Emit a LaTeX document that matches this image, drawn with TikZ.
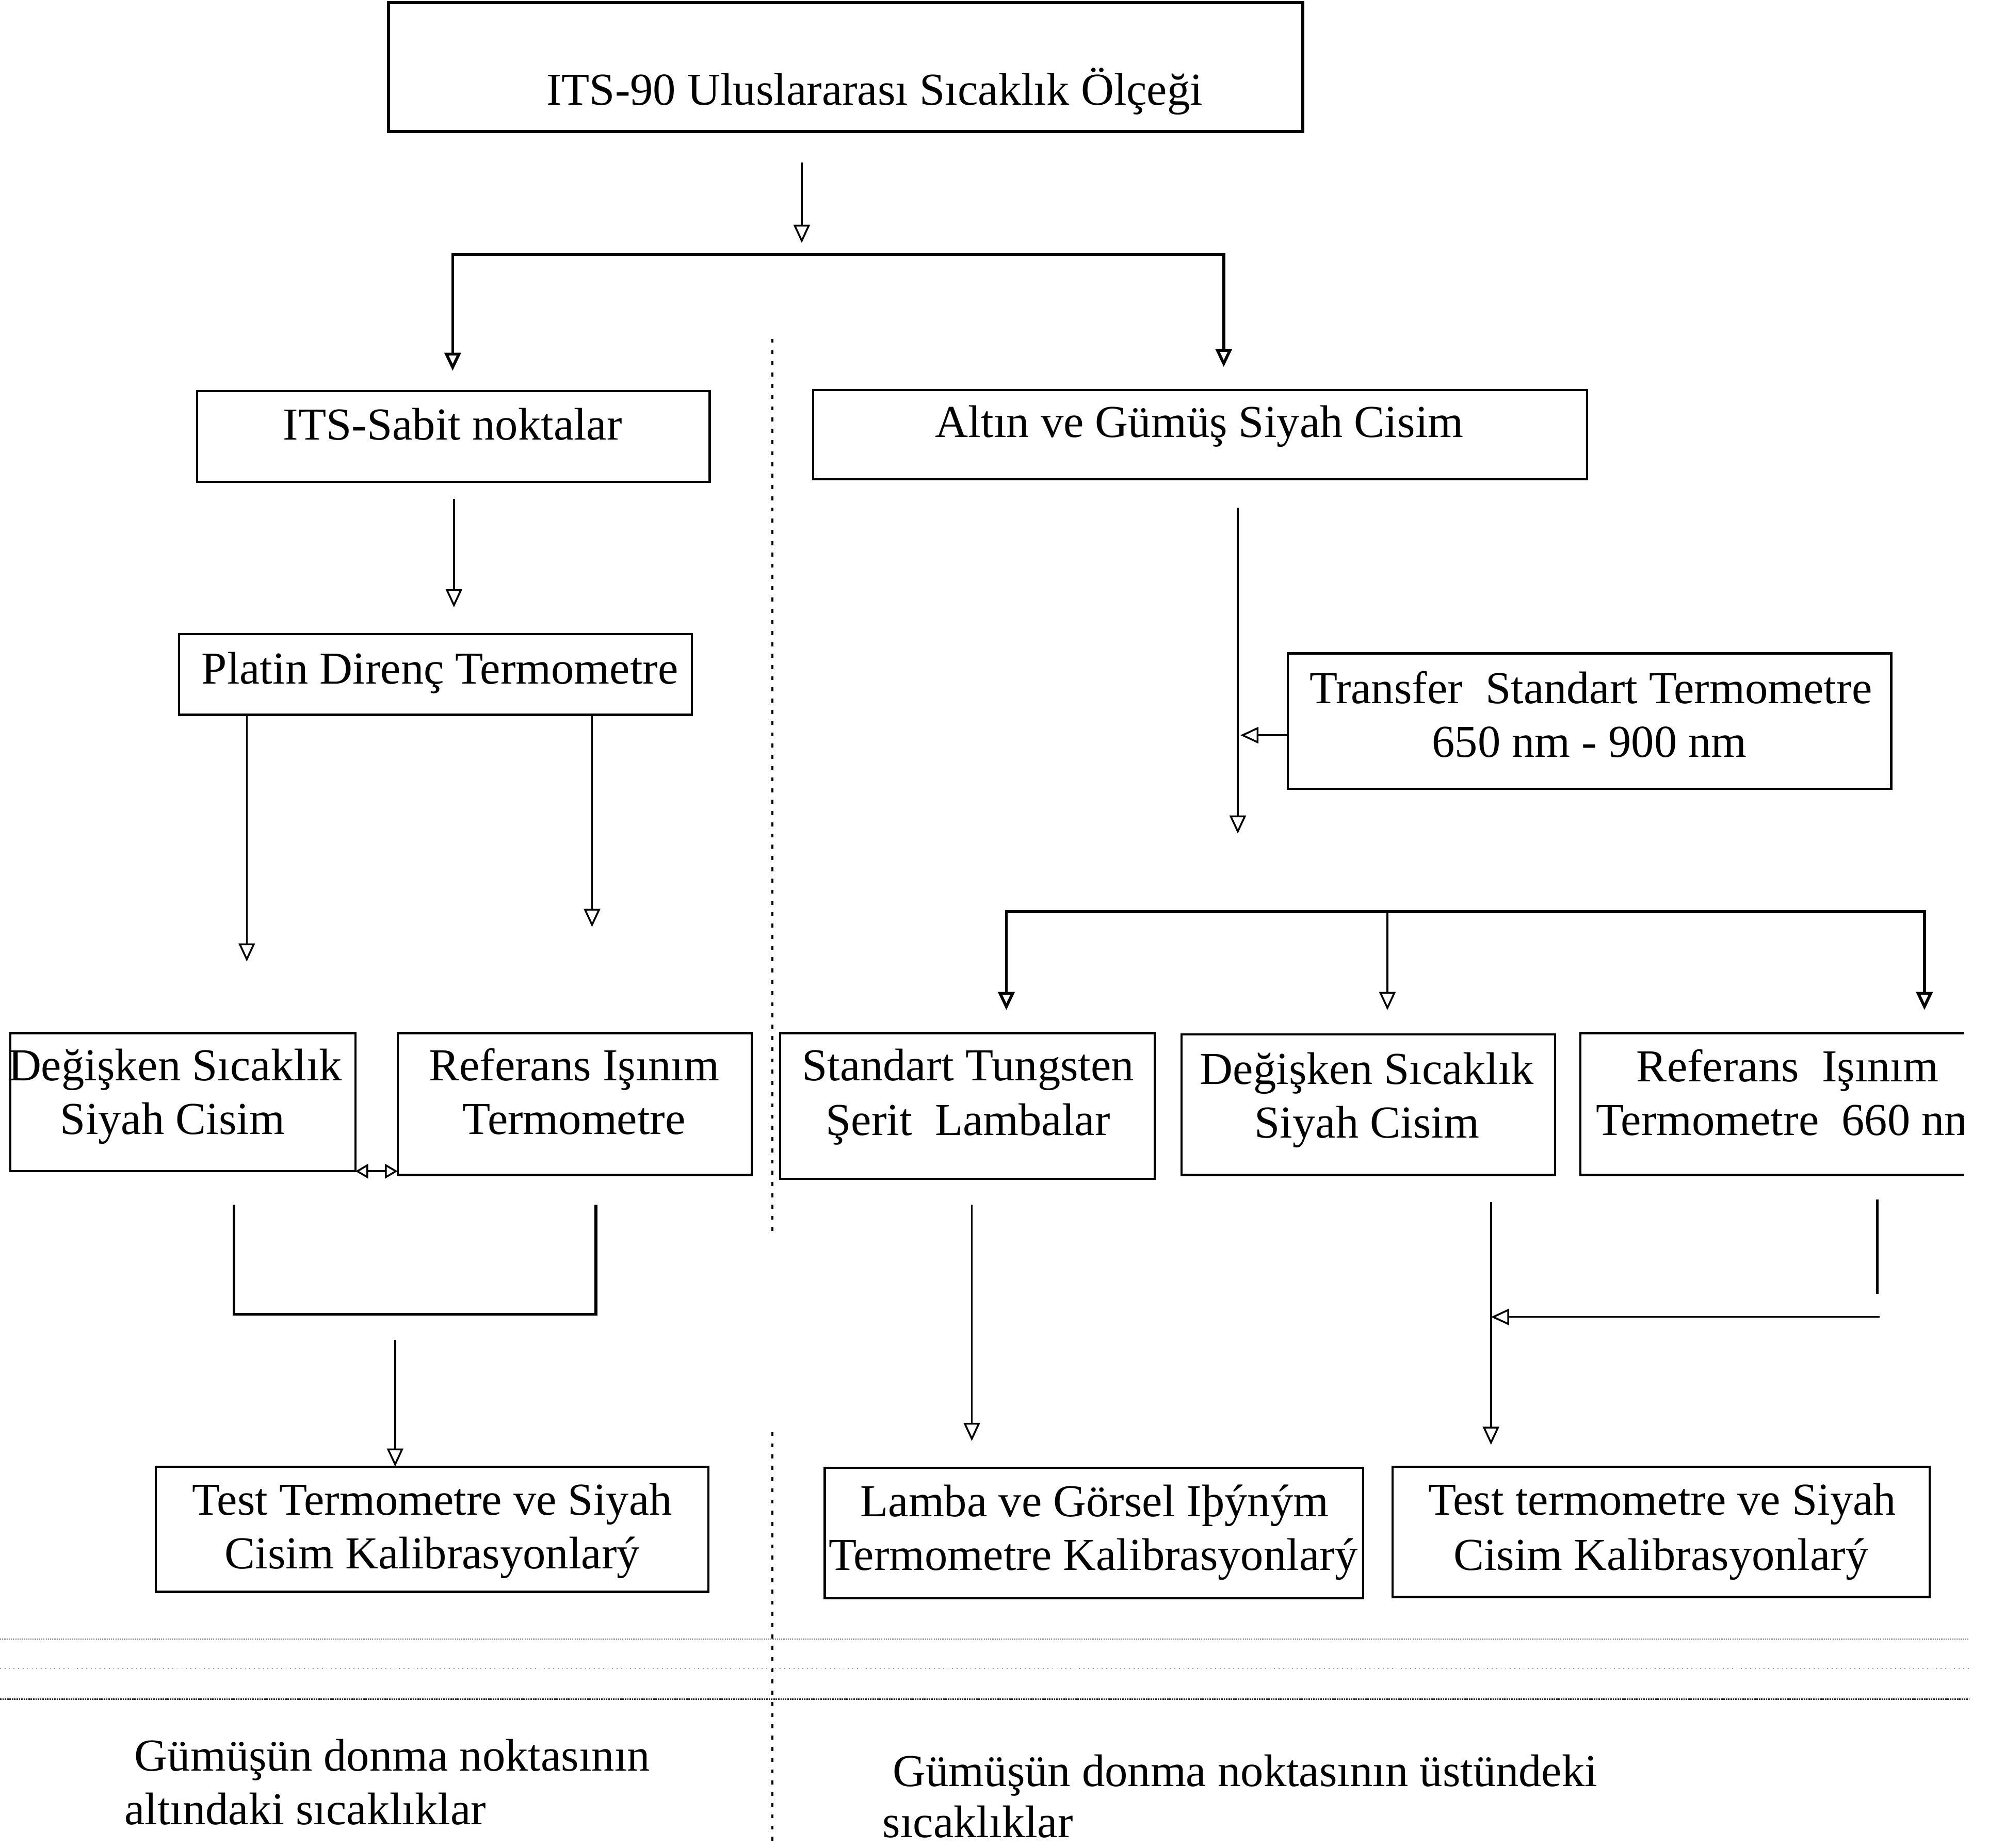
\documentclass[tikz,border=0pt]{standalone}
\usepackage{fontspec}
\setmainfont{Liberation Serif}
\usetikzlibrary{arrows.meta,calc}
\def\unitlen{0.02478cm}
\newcommand\mkbox[6][]{\node[box,#1, minimum width={(#5-#3)*\unitlen}, minimum height={(#6-#4)*\unitlen}] (#2) at ({(#3+#5)/2},{(#4+#6)/2}) {};}
\begin{document}
\begin{tikzpicture}[x=\unitlen, y=-\unitlen,
  box/.style={draw, line width=1.2pt, rectangle, inner sep=0pt, outer sep=0pt},
  txt/.style={font=\fontsize{25.2}{30}\selectfont, inner sep=0pt, anchor=base},
  txtl/.style={txt, anchor=base west},
  arr/.style={line width=1pt, -{Triangle[open,length=10pt,width=9pt]}},
  arrs/.style={line width=1pt, {Triangle[open,length=10pt,width=9pt]}-{Triangle[open,length=10pt,width=9pt]}},
  dbl/.style={line width=1pt, {Triangle[open,length=7pt,width=8pt]}-{Triangle[open,length=7pt,width=8pt]}},
  heavy/.style={line width=1.6pt},
  sep/.style={line width=1.3pt, dash pattern=on 2.2pt off 4pt}
]
\useasboundingbox[fill=white] (0,0) rectangle (1568,1445);

% ---------- boxes ----------
\mkbox[line width=1.7pt]{its}{304}{2}{1019}{103}
\mkbox{fix}{154}{306}{555}{377}
\mkbox{gold}{636}{305}{1241}{375}
\mkbox{pdt}{140}{496}{541}{559}
\mkbox{ldc}{8}{808}{278}{916}
\mkbox{lrt}{311}{808}{588}{919}
\mkbox{ltest}{122}{1147}{554}{1245}
\mkbox{trans}{1007}{511}{1479}{617}
\mkbox{tung}{610}{808}{903}{922}
\mkbox{rdc}{924}{809}{1216}{919}
\mkbox{lamba}{645}{1148}{1066}{1250}
\mkbox{rtest}{1089}{1147}{1509}{1249}
\begin{scope}
  \clip (1200,780) rectangle (1536,945);
  \mkbox{rrt}{1236}{808}{1565}{919}
  \node[txt] (rrt1) at (1398,846) {Referans\ \ Işınım};
  \node[txtl] (rrt2) at (1248,888) {Termometre\ \ 660 nm};
\end{scope}

% ---------- texts ----------
\node[txt] (its1) at (684,82) {ITS-90 Uluslararası Sıcaklık Ölçeği};
\node[txt] (fix1) at (354,344) {ITS-Sabit noktalar};
\node[txt] (gold1) at (938,342) {Altın ve Gümüş Siyah Cisim};
\node[txt] (pdt1) at (344,535) {Platin Direnç Termometre};
\node[txt] (ldc1) at (137,845) {Değişken Sıcaklık};
\node[txt] (ldc2) at (135,887) {Siyah Cisim};
\node[txt] (lrt1) at (449,845) {Referans Işınım};
\node[txt] (lrt2) at (449,887) {Termometre};
\node[txt] (ltest1) at (338,1185) {Test Termometre ve Siyah};
\node[txt] (ltest2) at (338,1227) {Cisim Kalibrasyonlarý};
\node[txt] (trans1) at (1244,550) {Transfer\ \ Standart Termometre};
\node[txt] (trans2) at (1243,592) {650 nm - 900 nm};
\node[txt] (tung1) at (757,845) {Standart Tungsten};
\node[txt] (tung2) at (757,888) {Şerit\ \ Lambalar};
\node[txt] (rdc1) at (1069,848) {Değişken Sıcaklık};
\node[txt] (rdc2) at (1069,890) {Siyah Cisim};
\node[txt] (lamba1) at (856,1186) {Lamba ve Görsel Iþýným};
\node[txt] (lamba2) at (855,1228) {Termometre Kalibrasyonlarý};
\node[txt] (rtest1) at (1300,1185) {Test termometre ve Siyah};
\node[txt] (rtest2) at (1299,1228) {Cisim Kalibrasyonlarý};
\node[txtl] (bl1) at (105,1385) {Gümüşün donma noktasının};
\node[txtl] (bl2) at (97,1427) {altındaki sıcaklıklar};
\node[txtl] (br1) at (698,1397) {Gümüşün donma noktasının üstündeki};
\node[txtl] (br2) at (690,1437) {sıcaklıklar};

% ---------- connectors ----------
\coordinate (s0) at (627,127);
\coordinate (s1) at (627,190);
\draw[arr] (s0) -- (s1);
\coordinate (fixtip) at (354,290);
\coordinate (goldtip) at (957,287);
\draw[arrs, heavy] (fixtip) -- (fixtip |- 0,199) -- (goldtip |- 0,199) -- (goldtip);

\coordinate (p0) at (355,390);
\coordinate (p1) at (355,475);
\draw[arr] (p0) -- (p1);

\coordinate (q1) at (193,752);
\coordinate (q2) at (463,725);
\draw[arr] (q1 |- pdt.south) -- (q1);
\draw[arr] (q2 |- pdt.south) -- (q2);

\draw[dbl] (ldc.south east) -- (ldc.south east -| lrt.west);

\coordinate (b1) at (183,942);
\coordinate (b2) at (466,942);
\draw[line width=1.5pt] (b1) -- (183,1028) -- (466,1028) -- (b2);
\coordinate (t0) at (309,1048);
\draw[arr] (t0) -- (t0 |- ltest.north);

% right side
\coordinate (g0) at (968,397);
\coordinate (g1) at (968,652);
\draw[arr] (g0) -- (g1);
\draw[arr] (trans.west |- 0,575) -- (970,575);

\coordinate (h1) at (787,790);
\coordinate (h2) at (1085,790);
\coordinate (h3) at (1505,790);
\draw[arrs, heavy] (h1) -- (h1 |- 0,713) -- (h3 |- 0,713) -- (h3);
\draw[arr] (h2 |- 0,713) -- (h2);

\coordinate (u0) at (760,942);
\draw[arr] (u0) -- (760,1127);
\coordinate (v0) at (1166,940);
\draw[arr] (v0) -- (1166,1130);
\coordinate (w0) at (1468,938);
\draw[line width=1.5pt] (w0) -- (1468,1012);
\draw[arr] (1470,1030) -- (1166,1030);

% separators
\draw[sep] (604,265) -- (604,965);
\draw[sep] (604,1120) -- (604,1445);
\draw[black!60, line width=0.6pt, dash pattern=on 0.6pt off 0.6pt] (0,1282) -- (1540,1282);
\draw[black!40, line width=0.5pt, dash pattern=on 0.5pt off 2pt] (0,1305) -- (1540,1305);
\draw[black!85, line width=0.8pt, dash pattern=on 0.8pt off 0.5pt] (0,1329) -- (1540,1329);
\end{tikzpicture}
\end{document}
